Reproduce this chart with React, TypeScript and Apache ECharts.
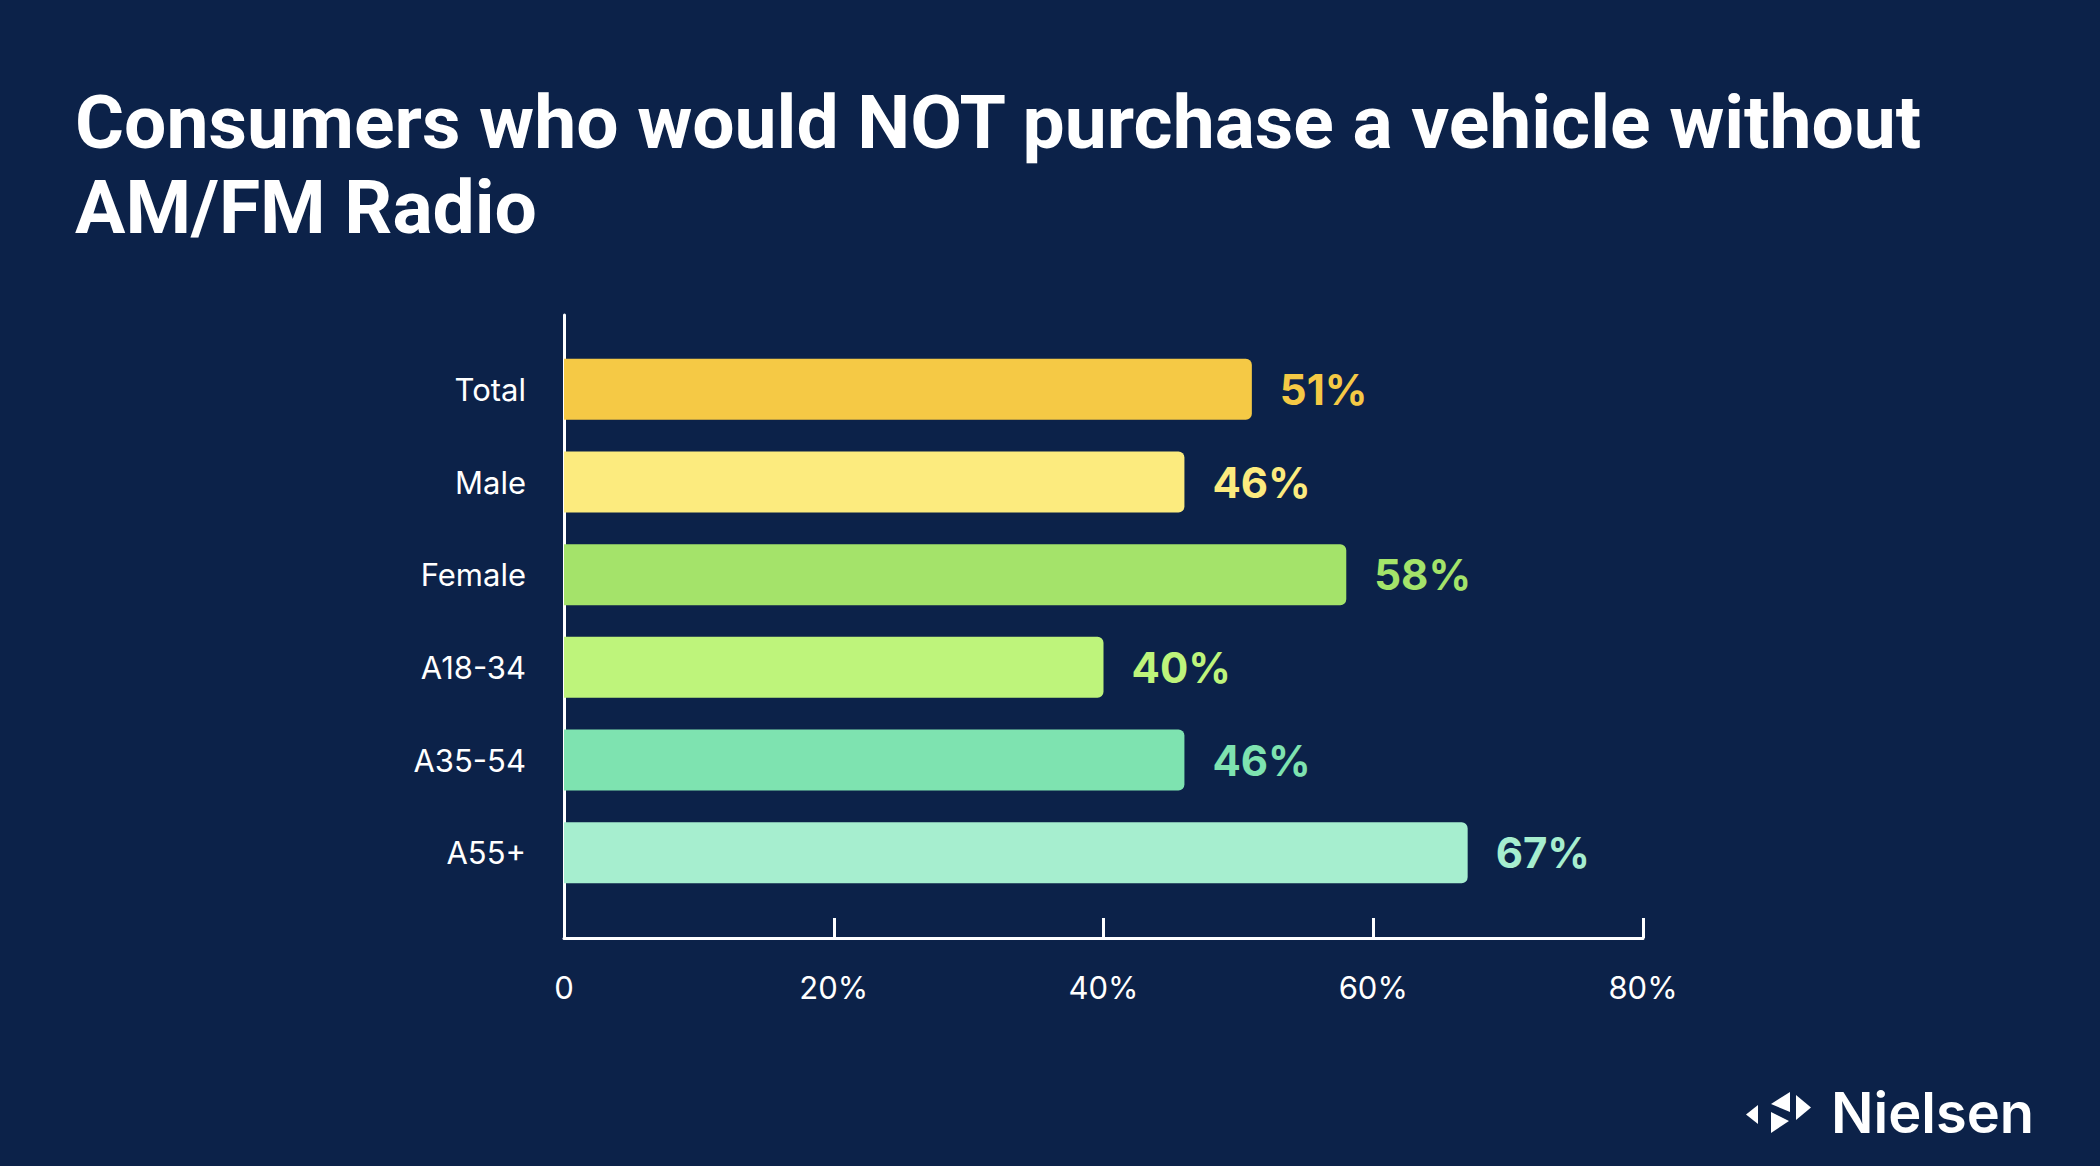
import React, { useEffect, useRef } from "react";
import * as echarts from "echarts";

// Share of consumers who would not buy a vehicle without AM/FM radio
const categories = ["Total", "Male", "Female", "A18-34", "A35-54", "A55+"];
const values = [51, 46, 58, 40, 46, 67];
const barColors = ["#F5C945", "#FCEB7E", "#A4E36A", "#BEF47B", "#7EE3B0", "#A6EECF"];
const axisMin = 0;
const axisMax = 80;
const axisStep = 20;

const BG = "#0C2249";
const FONT = "Inter, 'Noto Sans', sans-serif";
const TITLE_FONT = "Roboto, Inter, sans-serif";

export default function App() {
  const ref = useRef<HTMLDivElement>(null);

  useEffect(() => {
    document.body.style.margin = "0";
    document.body.style.background = BG;
    if (!ref.current) return;
    const chart = echarts.init(ref.current, undefined, { renderer: "svg" });

    const option: echarts.EChartsOption = {
      animation: false,
      backgroundColor: BG,
      title: {
        text: "Consumers who would NOT purchase a vehicle without\nAM/FM Radio",
        left: 75,
        top: 79,
        padding: 0,
        textStyle: {
          color: "#FFFFFF",
          fontFamily: TITLE_FONT,
          fontSize: 75,
          fontWeight: 700,
          lineHeight: 85,
        },
      },
      grid: [
        // band area holding the bars
        { left: 564, width: 1079, top: 343, height: 556 },
        // frame carrying the visible axis lines and ticks
        { left: 564, width: 1079, top: 315, height: 623 },
      ],
      xAxis: [
        {
          gridIndex: 0,
          type: "value",
          min: axisMin,
          max: axisMax,
          interval: axisStep,
          show: false,
        },
        {
          gridIndex: 1,
          type: "value",
          min: axisMin,
          max: axisMax,
          interval: axisStep,
          axisLine: { show: true, lineStyle: { color: "#FFFFFF", width: 3 } },
          axisTick: {
            show: true,
            inside: true,
            length: 20,
            lineStyle: { color: "#FFFFFF", width: 3 },
          },
          splitLine: { show: false },
          axisLabel: {
            color: "#FFFFFF",
            fontFamily: FONT,
            fontSize: 31,
            margin: 34,
            formatter: (v: number) => (v === 0 ? "0" : `${v}%`),
          },
        },
      ],
      yAxis: [
        {
          gridIndex: 0,
          type: "category",
          inverse: true,
          data: categories,
          axisLine: { show: false },
          axisTick: { show: false },
          axisLabel: {
            color: "#FFFFFF",
            fontFamily: FONT,
            fontSize: 31,
            margin: 38,
          },
        },
        {
          gridIndex: 1,
          type: "value",
          min: 0,
          max: 1,
          axisLine: { show: true, lineStyle: { color: "#FFFFFF", width: 3 } },
          axisTick: { show: false },
          axisLabel: { show: false },
          splitLine: { show: false },
        },
      ],
      series: [
        {
          type: "bar",
          xAxisIndex: 0,
          yAxisIndex: 0,
          barWidth: 61,
          data: values.map((v, i) => ({
            value: v,
            itemStyle: { color: barColors[i], borderRadius: [0, 6, 6, 0] },
            label: { color: barColors[i] },
          })),
          label: {
            show: true,
            position: "right",
            distance: 28,
            fontFamily: FONT,
            fontSize: 42,
            fontWeight: 700,
            formatter: "{c}%",
          },
        },
      ],
      graphic: [
        // Nielsen mark: four small triangles
        { type: "polygon", shape: { points: [[1758, 1105], [1758, 1124], [1746, 1114.5]] }, style: { fill: "#FFFFFF" } },
        { type: "polygon", shape: { points: [[1790, 1092], [1790, 1112], [1771, 1104]] }, style: { fill: "#FFFFFF" } },
        { type: "polygon", shape: { points: [[1771, 1112], [1771, 1133], [1789, 1121]] }, style: { fill: "#FFFFFF" } },
        { type: "polygon", shape: { points: [[1796, 1095], [1796, 1120], [1811, 1107.5]] }, style: { fill: "#FFFFFF" } },
        {
          type: "text",
          style: {
            x: 1831,
            y: 1113,
            text: "Nielsen",
            fill: "#FFFFFF",
            font: `600 56px ${FONT}`,
            verticalAlign: "middle",
          },
        },
      ],
    };

    chart.setOption(option);
    return () => chart.dispose();
  }, []);

  return <div ref={ref} style={{ width: 2100, height: 1166 }} />;
}
